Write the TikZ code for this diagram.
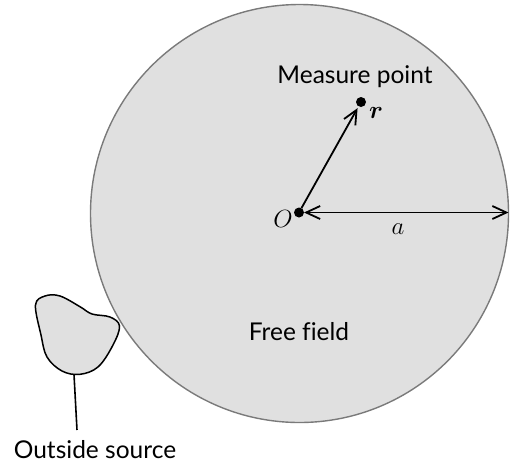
\documentclass[tikz,border=0pt]{standalone}
\usepackage{fontspec}
\usepackage{bm}
\setmainfont{Lato}[Ligatures=CommonOff]
\usetikzlibrary{arrows.meta}
\definecolor{fieldfill}{HTML}{E0E0E0}
\definecolor{rimgray}{HTML}{7A7A7A}
\tikzset{
  lbl/.style={font=\fontsize{24.5}{28}\selectfont, inner sep=0pt},
  mlbl/.style={font=\fontsize{27}{32}\selectfont, inner sep=0pt},
  dot/.style={circle, fill=black, minimum size=10pt, inner sep=0pt, outer sep=0pt},
  arr/.style={line width=1.8pt, -{Straight Barb[length=14pt,width=13pt,line width=1.8pt]}},
  darr/.style={line width=1.8pt, {Straight Barb[length=14pt,width=13pt,line width=1.8pt]}-{Straight Barb[length=14pt,width=13pt,line width=1.8pt]}},
}
\begin{document}
\begin{tikzpicture}[x=1pt,y=-1pt]
\useasboundingbox (0,0) rectangle (510,469);
% free field region
\fill[fieldfill] (299.5,213.5) circle (209);
\draw[rimgray, line width=1.4pt] (299.5,213.5) circle (209);
% outside source
\filldraw[fill=fieldfill, draw=black, line width=1.5pt]
  plot[smooth cycle, tension=0.6] coordinates {(35.5,305) (45,296) (60,296) (80,306.7) (92,314) (110,317) (119.5,326) (113,345) (98.3,366.7) (80,374.3) (62,371) (47,357) (41,335)};
\coordinate (srcbot) at (74,374.5);
\coordinate (srcend) at (77,430);
\draw[line width=1.6pt] (srcbot) -- (srcend);
% points
\node[dot] (O) at (299,212.5) {};
\node[dot] (R) at (361,102) {};
\coordinate (E) at (508.5,212.5);
\draw[arr, shorten >=2pt] (O) -- (R);
\draw[darr] (O) -- (E);
% labels
\node[mlbl] (Olbl) at (283,219) {$O$};
\node[mlbl] (rlbl) at (376,113) {$\bm{r}$};
\node[mlbl] (albl) at (398,229) {$a$};
\node[lbl, anchor=base] (mp) at (355,83) {Measure point};
\node[lbl, anchor=base] (ff) at (299,340) {Free field};
\node[lbl, anchor=base] (os) at (95,458) {Outside source};
\end{tikzpicture}
\end{document}
